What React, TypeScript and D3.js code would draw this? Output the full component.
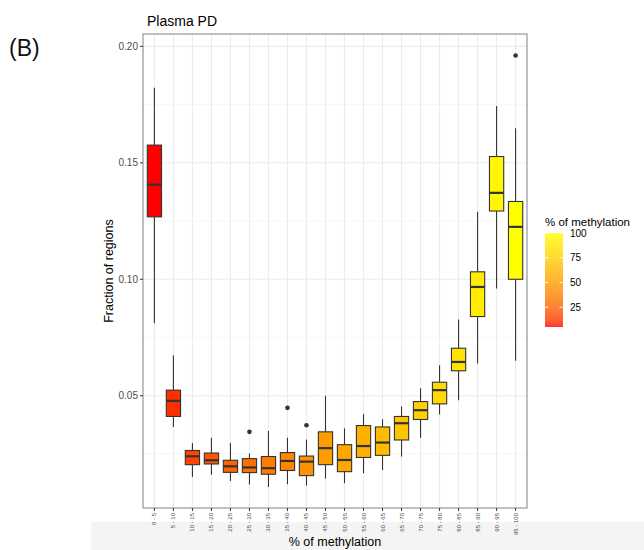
import * as d3 from 'd3'

const categories = ['0 - 5', '5 - 10', '10 - 15', '15 - 20', '20 - 25', '25 - 30', '30 - 35', '35 - 40', '40 - 45', '45 - 50',
  '50 - 55', '55 - 60', '60 - 65', '65 - 70', '70 - 75', '75 - 80', '80 - 85', '85 - 90', '90 - 95', '95 - 100']
// methylation value used for fill (upper bound of each bin)
const fillValues = [5, 10, 15, 20, 25, 30, 35, 40, 45, 50, 55, 60, 65, 70, 75, 80, 85, 90, 95, 100]

const whiskerLow = [0.0811, 0.0366, 0.0151, 0.0161, 0.0134, 0.0119, 0.0108, 0.0120, 0.0114, 0.0144,
  0.0125, 0.0167, 0.0181, 0.0239, 0.0319, 0.0419, 0.0481, 0.0638, 0.0960, 0.0650]
const q1 = [0.1268, 0.0411, 0.0204, 0.0207, 0.0171, 0.0170, 0.0163, 0.0179, 0.0157, 0.0204,
  0.0174, 0.0235, 0.0244, 0.0310, 0.0398, 0.0465, 0.0607, 0.0840, 0.1293, 0.1000]
const medians = [0.1406, 0.0478, 0.0240, 0.0223, 0.0197, 0.0192, 0.0189, 0.0220, 0.0217, 0.0275,
  0.0224, 0.0284, 0.0299, 0.0382, 0.0438, 0.0524, 0.0645, 0.0967, 0.1371, 0.1225]
const q3 = [0.1576, 0.0524, 0.0265, 0.0254, 0.0223, 0.0230, 0.0239, 0.0256, 0.0241, 0.0345,
  0.0290, 0.0372, 0.0366, 0.0411, 0.0475, 0.0558, 0.0704, 0.1032, 0.1527, 0.1334]
const whiskerHigh = [0.1822, 0.0674, 0.0297, 0.0320, 0.0297, 0.0252, 0.0349, 0.0320, 0.0312, 0.0499,
  0.0360, 0.0421, 0.0399, 0.0454, 0.0532, 0.0631, 0.0827, 0.1290, 0.1744, 0.1648]
const outliers: [string, number][] = [['25 - 30', 0.0345], ['35 - 40', 0.0448], ['40 - 45', 0.0373], ['95 - 100', 0.1961]]

const yTicks = [0.05, 0.1, 0.15, 0.2]
const yMinor = [0.025, 0.075, 0.125, 0.175]
const legendTicks = [25, 50, 75, 100]

const FONT = '"Liberation Sans", Arial, sans-serif'

export default function App() {
  const left = 143, right = 527, top = 34, bottom = 508
  const x = d3.scalePoint<string>().domain(categories).range([left, right]).padding(0.6)
  const y = d3.scaleLinear().domain([0.0018, 0.2053]).range([bottom, top])
  const color = d3.scaleLinear<string>().domain([5, 100]).range(['red', 'yellow']).interpolate(d3.interpolateLab)
  const bw = x.step() * 0.75

  // legend
  const lgX = 545, lgW = 18, lgTop = 233, lgBot = 327
  const ly = d3.scaleLinear().domain([5, 100]).range([lgBot, lgTop])
  const stops = d3.range(0, 1.0001, 0.05)

  return (
    <svg width={644} height={550} style={{ position: 'absolute', left: 0, top: 0, background: '#fff' }} fontFamily={FONT}>
      <defs>
        <linearGradient id="lg" x1="0" y1="1" x2="0" y2="0">
          {stops.map(t => (
            <stop key={t} offset={t} stopColor={color(5 + t * 95)} />
          ))}
        </linearGradient>
      </defs>
      <rect x={91} y={522} width={553} height={28} fill="#f4f4f4" />
      <text x={9} y={56} fontSize={23} fill="#111">(B)</text>
      <text x={147} y={26} fontSize={14} fill="#000">Plasma PD</text>

      {/* grid */}
      {yMinor.map(v => (
        <line key={'mi' + v} x1={left} x2={right} y1={y(v)} y2={y(v)} stroke="#f2f2f2" strokeWidth={0.6} />
      ))}
      {yTicks.map(v => (
        <line key={'ma' + v} x1={left} x2={right} y1={y(v)} y2={y(v)} stroke="#ebebeb" strokeWidth={1.1} />
      ))}
      {categories.map(c => (
        <line key={'gx' + c} x1={x(c)} x2={x(c)} y1={top} y2={bottom} stroke="#ebebeb" strokeWidth={1.1} />
      ))}

      {/* boxes */}
      {categories.map((c, i) => {
        const cx = x(c)!
        return (
          <g key={c}>
            <line x1={cx} x2={cx} y1={y(whiskerHigh[i])} y2={y(q3[i])} stroke="#333" strokeWidth={1.1} />
            <line x1={cx} x2={cx} y1={y(q1[i])} y2={y(whiskerLow[i])} stroke="#333" strokeWidth={1.1} />
            <rect x={cx - bw / 2} y={y(q3[i])} width={bw} height={y(q1[i]) - y(q3[i])}
              fill={color(fillValues[i])} stroke="#333" strokeWidth={1.1} />
            <line x1={cx - bw / 2} x2={cx + bw / 2} y1={y(medians[i])} y2={y(medians[i])} stroke="#333" strokeWidth={2.2} />
          </g>
        )
      })}
      {outliers.map(([c, v], i) => (
        <circle key={'o' + i} cx={x(c)} cy={y(v)} r={2.3} fill="#333" />
      ))}

      <rect x={left} y={top} width={right - left} height={bottom - top} fill="none" stroke="#808080" strokeWidth={1} />

      {/* y axis */}
      {yTicks.map(v => (
        <g key={'yt' + v}>
          <line x1={left - 3} x2={left} y1={y(v)} y2={y(v)} stroke="#333" />
          <text x={left - 5} y={y(v)} dy="0.35em" textAnchor="end" fontSize={10} fill="#4d4d4d">{v.toFixed(2)}</text>
        </g>
      ))}
      <text transform={`translate(113,${(top + bottom) / 2}) rotate(-90)`} textAnchor="middle" fontSize={12.5} fill="#000">Fraction of regions</text>

      {/* x axis */}
      {categories.map(c => (
        <g key={'xt' + c}>
          <line x1={x(c)} x2={x(c)} y1={bottom} y2={bottom + 3} stroke="#333" />
          <text transform={`translate(${x(c)! + 2},${bottom + 5}) rotate(-90)`} textAnchor="end" fontSize={6} fill="#4d4d4d">{c}</text>
        </g>
      ))}
      <text x={(left + right) / 2} y={546} textAnchor="middle" fontSize={12.5} fill="#000">% of methylation</text>

      {/* legend */}
      <text x={lgX} y={226} fontSize={11.5} fill="#000">% of methylation</text>
      <rect x={lgX} y={lgTop} width={lgW} height={lgBot - lgTop} fill="url(#lg)" opacity={0.8} />
      {legendTicks.map(v => (
        <g key={'lt' + v}>
          <line x1={lgX} x2={lgX + 3.6} y1={ly(v)} y2={ly(v)} stroke="#fff" strokeWidth={0.8} />
          <line x1={lgX + lgW - 3.6} x2={lgX + lgW} y1={ly(v)} y2={ly(v)} stroke="#fff" strokeWidth={0.8} />
          <text x={lgX + lgW + 7} y={ly(v)} dy="0.35em" fontSize={10} fill="#000">{v}</text>
        </g>
      ))}
    </svg>
  )
}
